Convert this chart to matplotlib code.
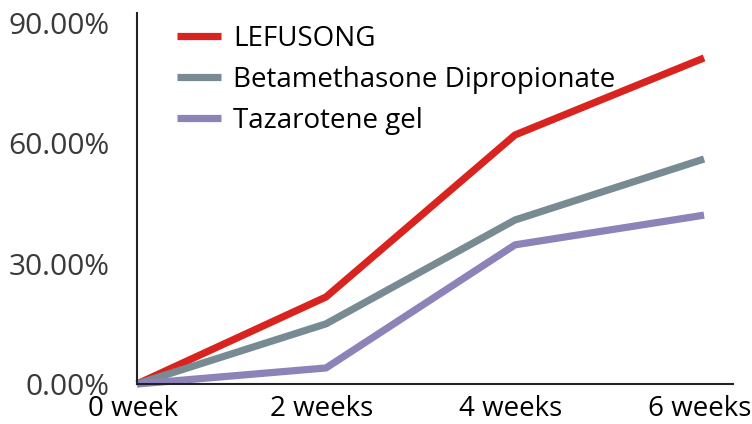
import matplotlib.pyplot as plt
from matplotlib.ticker import FuncFormatter
from matplotlib.transforms import ScaledTranslation

plt.rcParams['font.family'] = ['Open Sans', 'DejaVu Sans']

weeks = ["0 week", "2 weeks", "4 weeks", "6 weeks"]
lefusong = [0, 21.7, 62.1, 81.3]
betamethasone = [0, 15.0, 40.9, 56.1]
tazarotene = [0, 4.0, 34.7, 42.1]

series = [
    ("LEFUSONG", lefusong, "#d9231e"),
    ("Betamethasone Dipropionate", betamethasone, "#788a92"),
    ("Tazarotene gel", tazarotene, "#8e83b8"),
]

fig = plt.figure(figsize=(7.52, 4.24), dpi=100)
ax = fig.add_axes([137 / 752, 1 - 384 / 424, (733 - 137) / 752, (384 - 13) / 424])

x = list(range(len(weeks)))
for name, vals, col in series:
    ax.plot(x, vals, color=col, lw=5.2, label=name, clip_on=False, solid_capstyle="butt")

ax.set_xlim(0, 3.153)
ax.set_ylim(0, 92.5)
ax.set_xticks(x)
ax.set_xticklabels(weeks, fontsize=20, color="black")
ax.set_yticks([0, 30, 60, 90])
ax.yaxis.set_major_formatter(FuncFormatter(lambda v, p: f"{v:.2f}%"))
ax.tick_params(axis="y", length=0, pad=19.5, labelsize=21.5, labelcolor="#3a3a3a")
ax.tick_params(axis="x", length=0, pad=8)
shift = ScaledTranslation(-4 / 100, 0, fig.dpi_scale_trans)
for lab in ax.get_xticklabels():
    lab.set_transform(lab.get_transform() + shift)
for s in ["top", "right"]:
    ax.spines[s].set_visible(False)
for s in ["left", "bottom"]:
    ax.spines[s].set_color("#222222")
    ax.spines[s].set_linewidth(1.5)

ax.legend(loc="upper left", bbox_to_anchor=(177 / 752, 1 - 25 / 424),
          bbox_transform=fig.transFigure, frameon=False, fontsize=20,
          handlelength=1.58, handletextpad=0.43, labelspacing=0.46,
          borderpad=0, borderaxespad=0)

fig.savefig("out.png", dpi=100)
